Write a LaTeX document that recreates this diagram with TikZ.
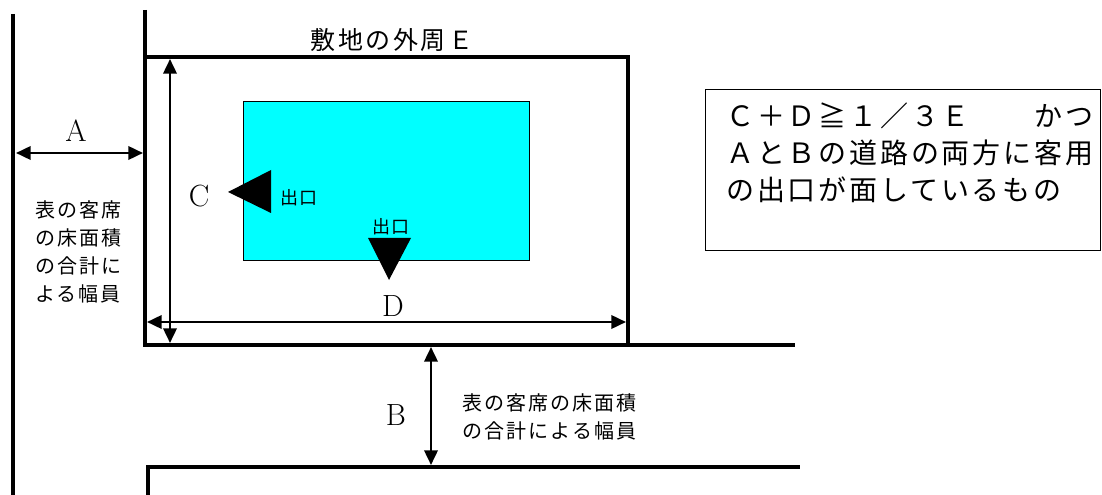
\documentclass[tikz,border=0pt]{standalone}
\usepackage{fontspec}
\usepackage{tikz}
\usetikzlibrary{positioning,arrows.meta}
\newfontfamily\jpfont{Noto Sans CJK JP}[LetterSpace=10]
\definecolor{bldg}{RGB}{0,255,255}

\begin{document}
\begin{tikzpicture}[x=0.75pt,y=-0.75pt,>={Triangle[length=11pt,width=10pt]},
  road/.style={line width=3pt},
  dim/.style={<->,line width=1.9pt},
  lbl/.style={font=\fontsize{23}{23}\selectfont},
  jp/.style={font=\jpfont\fontsize{15}{21}\selectfont}]
\useasboundingbox (0,0) rectangle (1102,495);
% site corners
\coordinate (nw) at (145,57);
\coordinate (ne) at (628,57);
\coordinate (se) at (628,345);
\coordinate (sw) at (145,345);
% roads and the site outline
\draw[road] (13,14) -- (13,495);
\draw[road] (145,10) -- (sw) -- (795,345);
\draw[road] (nw) -- (ne) -- (se);
\draw[road] (148,495) -- (148,467) -- (800,467);
% building with its exits
\draw[line width=0.75pt,fill=bldg] (243,102) rectangle (529,260);
\fill (228,192) -- (271,170) -- (271,213) -- cycle;
\fill (368,238) -- (411,238) -- (389,280) -- cycle;
\node[font=\jpfont\fontsize{13.5}{14}\selectfont] (exitC) at (299,198) {出口};
\node[font=\jpfont\fontsize{13.5}{14}\selectfont] (exitD) at (391,227) {出口};
% dimensions
\coordinate (a1) at (16,153);
\coordinate (a2) at (143,153);
\coordinate (c1) at (170,59);
\coordinate (c2) at (170,343);
\coordinate (d1) at (147,322);
\coordinate (d2) at (626,322);
\coordinate (b1) at (431,347);
\coordinate (b2) at (431,465);
\draw[dim] (a1) -- (a2);
\draw[dim] (c1) -- (c2);
\draw[dim] (d1) -- (d2);
\draw[dim] (b1) -- (b2);
\node[lbl] (labA) at (76,131) {A};
\node[lbl] (labB) at (396,415) {B};
\node[lbl] (labC) at (199,196) {C};
\node[lbl] (labD) at (393,306) {D};
\node[font=\jpfont\fontsize{18.75}{19}\selectfont] (title) at (392,40) {敷地の外周Ｅ};
\node[jp,align=center] (noteA) at (78,252) {表の客席\\の床面積\\の合計に\\よる幅員};
\node[jp,align=left,anchor=west] (noteB) at (458,417) {表の客席の床面積\\の合計による幅員};
% condition box
\node[draw,line width=1.1pt,anchor=north west,minimum width=296.25pt,minimum height=120.75pt,inner sep=0pt] (cond) at (705,89) {};
\node[anchor=north west,align=left,inner sep=0pt,font=\jpfont\fontsize{21}{27.75}\selectfont] (condtext) at (726,103) {Ｃ＋Ｄ≧１／３Ｅ　　かつ\\ＡとＢの道路の両方に客用\\の出口が面しているもの};
\end{tikzpicture}
\end{document}
